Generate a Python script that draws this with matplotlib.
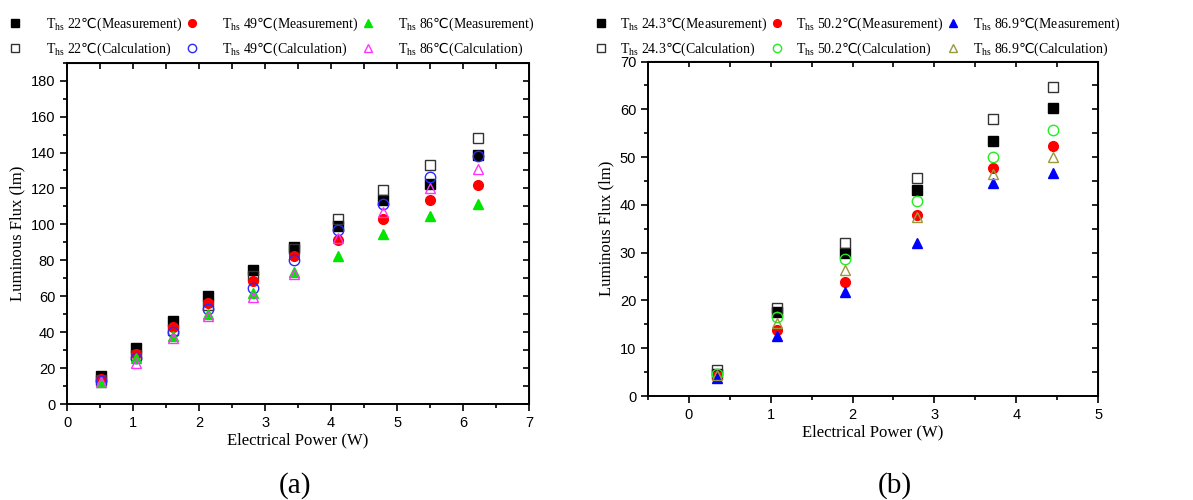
import matplotlib
matplotlib.use("Agg")
import matplotlib.pyplot as plt
from matplotlib.ticker import MultipleLocator

plt.rcParams["font.family"] = ["Liberation Serif", "DejaVu Serif"]
plt.rcParams["mathtext.fontset"] = "custom"
plt.rcParams["mathtext.rm"] = "Liberation Serif"
plt.rcParams["mathtext.it"] = "Liberation Serif:italic"
plt.rcParams["mathtext.sf"] = "DejaVu Sans"
plt.rcParams["mathtext.fallback"] = "stix"

# panel (a)
power_a = [0.52, 1.04, 1.61, 2.14, 2.81, 3.44, 4.11, 4.79, 5.50, 6.22]
meas_22 = [15.7, 31.0, 46.4, 60.3, 74.4, 87.6, 99.2, 113.5, 122.4, 138.7]
meas_49 = [14.0, 28.0, 43.0, 56.5, 68.5, 82.6, 91.3, 103.1, 113.3, 121.8]
meas_86 = [12.0, 25.5, 38.0, 50.0, 61.7, 73.5, 82.4, 94.4, 104.4, 111.3]
calc_22 = [13.5, 27.0, 41.0, 55.0, 71.0, 86.3, 102.8, 119.4, 132.8, 148.1]
calc_49 = [13.0, 25.5, 40.0, 52.8, 64.8, 80.2, 96.8, 111.1, 126.1, 138.0]
calc_86 = [12.2, 23.0, 37.0, 49.0, 59.8, 72.3, 92.2, 107.0, 120.3, 130.6]

# panel (b)
power_b = [0.34, 1.08, 1.91, 2.79, 3.72, 4.45]
meas_243 = [4.5, 17.6, 30.0, 43.2, 53.3, 60.2]
meas_502 = [4.2, 13.9, 23.8, 37.8, 47.8, 52.4]
meas_869 = [3.7, 12.5, 21.7, 32.0, 44.6, 46.7]
calc_243 = [5.5, 18.4, 32.0, 45.7, 58.0, 64.7]
calc_502 = [4.6, 16.5, 28.6, 40.8, 50.0, 55.7]
calc_869 = [4.4, 15.2, 26.4, 37.5, 46.5, 50.1]

TICK_FONT = "Liberation Sans"
DEG_C = "\u2103"


def label(temp, kind):
    return r"T$_{\mathrm{hs}}$ " + temp + "$\\mathsf{" + DEG_C + "}$(" + kind + ")"


def style_axes(ax, xlim, ylim, xminor, ymajor, yminor):
    ax.set_xlim(*xlim)
    ax.set_ylim(*ylim)
    ax.xaxis.set_major_locator(MultipleLocator(1))
    ax.xaxis.set_minor_locator(MultipleLocator(xminor))
    ax.yaxis.set_major_locator(MultipleLocator(ymajor))
    ax.yaxis.set_minor_locator(MultipleLocator(yminor))
    ax.tick_params(which="both", direction="out", top=False, right=False, width=1.2)
    ax.tick_params(which="major", length=5)
    ax.tick_params(which="minor", length=3)
    for lab in ax.get_xticklabels() + ax.get_yticklabels():
        lab.set_fontfamily(TICK_FONT)
        lab.set_fontsize(10.5)
    for sp in ax.spines.values():
        sp.set_linewidth(1.4)
    top = ax.secondary_xaxis("top")
    top.xaxis.set_major_locator(MultipleLocator(xminor))
    top.tick_params(direction="in", length=4, width=1.2, labeltop=False)
    right = ax.secondary_yaxis("right")
    right.yaxis.set_major_locator(MultipleLocator(yminor))
    right.tick_params(direction="in", length=4, width=1.2, labelright=False)
    ax.set_xlabel("Electrical Power (W)", fontsize=12, labelpad=2)
    ax.set_ylabel("Luminous Flux (lm)", fontsize=12)


def add_series(ax, x, y, marker, color, filled, lab):
    if filled:
        ax.plot(x, y, linestyle="none", marker=marker, markersize=7,
                color=color, markeredgecolor=color, label=lab)
    else:
        ax.plot(x, y, linestyle="none", marker=marker, markersize=7.5,
                markerfacecolor="none", markeredgecolor=color,
                markeredgewidth=1.0, label=lab)


fig = plt.figure(figsize=(11.93, 5.0), dpi=100)
ax_a = fig.add_axes([0.0562, 0.192, 0.3873, 0.6826])
ax_b = fig.add_axes([0.5432, 0.208, 0.3772, 0.669])

add_series(ax_a, power_a, meas_22, "s", "black", True, label("22", "Measurement"))
add_series(ax_a, power_a, calc_22, "s", "#333333", False, label("22", "Calculation"))
add_series(ax_a, power_a, meas_49, "o", "red", True, label("49", "Measurement"))
add_series(ax_a, power_a, calc_49, "o", "#2a2aff", False, label("49", "Calculation"))
add_series(ax_a, power_a, meas_86, "^", "#00e600", True, label("86", "Measurement"))
add_series(ax_a, power_a, calc_86, "^", "#ff33ff", False, label("86", "Calculation"))

add_series(ax_b, power_b, meas_243, "s", "black", True, label("24.3", "Measurement"))
add_series(ax_b, power_b, calc_243, "s", "#333333", False, label("24.3", "Calculation"))
add_series(ax_b, power_b, meas_502, "o", "red", True, label("50.2", "Measurement"))
add_series(ax_b, power_b, calc_502, "o", "#22ee22", False, label("50.2", "Calculation"))
add_series(ax_b, power_b, meas_869, "^", "#0000ff", True, label("86.9", "Measurement"))
add_series(ax_b, power_b, calc_869, "^", "#9a9a3a", False, label("86.9", "Calculation"))

style_axes(ax_a, (0, 7), (0, 190), 0.5, 20, 10)
style_axes(ax_b, (-0.5, 5), (0, 70), 0.5, 10, 5)

for ax, x0, pad, colsp in ((ax_a, -0.001, 1.7, 0.15), (ax_b, 0.4895, 0.9, 0.2)):
    h, l = ax.get_legend_handles_labels()
    fig.legend(h, l, ncol=3, loc="upper left", bbox_to_anchor=(x0, 0.989),
               frameon=False, fontsize=10, handlelength=1.0,
               handletextpad=pad, columnspacing=colsp, labelspacing=0.55,
               borderaxespad=0.3, markerscale=0.8)

fig.text(0.247, 0.015, "(a)", fontsize=21, ha="center")
fig.text(0.750, 0.015, "(b)", fontsize=21, ha="center")

fig.savefig("out.png", dpi=100)
